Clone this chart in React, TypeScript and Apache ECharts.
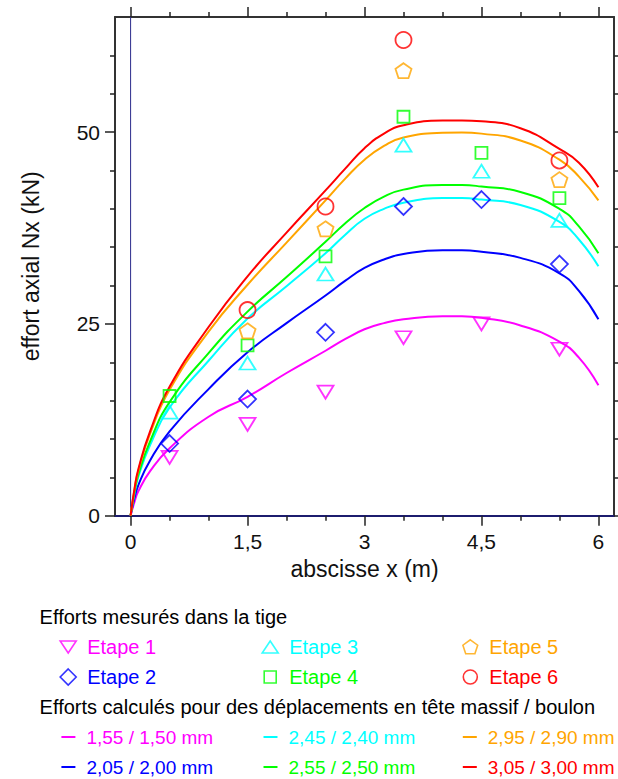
import React, { useEffect, useRef } from 'react';
import * as echarts from 'echarts';

const FONT = '"Liberation Sans", Arial, Helvetica, sans-serif';

// Measured values (Etapes)
const X_MEASURED = [0.5, 1.5, 2.5, 3.5, 4.5, 5.5];
const etape1 = [7.6, 11.9, 16.1, 23.2, 25.0, 21.7];
const etape2 = [9.4, 15.2, 23.9, 40.3, 41.2, 32.8];
const etape3 = [13.5, 19.9, 31.5, 48.3, 44.9, 38.5];
const etape4 = [15.6, 22.2, 33.8, 52.0, 47.3, 41.4];
const etape5 = [null, 24.1, 37.4, 58.0, null, 43.8];
const etape6 = [null, 26.8, 40.3, 62.0, null, 46.3];

// Computed curves
const X_CALC = [0, 0.05, 0.1, 0.25, 0.5, 1, 1.5, 2, 2.5, 2.75, 3, 3.25, 3.5, 4, 4.25, 4.5, 5, 5.5, 5.75, 6];
const calc1 = [0, 1.8, 3.2, 5.8, 8.8, 12.9, 15.5, 18.6, 21.5, 23.0, 24.3, 25.1, 25.6, 26.0, 26.0, 25.8, 24.8, 22.7, 20.6, 17.0];
const calc2 = [0, 2.3, 4.0, 7.2, 11.0, 16.5, 21.3, 25.1, 28.7, 30.6, 32.3, 33.4, 34.1, 34.6, 34.6, 34.4, 33.6, 31.6, 29.3, 25.6];
const calc3 = [0, 2.9, 5.1, 9.2, 14.1, 20.2, 25.7, 29.9, 34.2, 36.6, 38.7, 40.0, 40.8, 41.4, 41.4, 41.2, 40.5, 38.3, 36.0, 32.5];
const calc4 = [0, 3.1, 5.4, 9.7, 14.8, 21.2, 26.6, 31.1, 35.7, 38.1, 40.1, 41.6, 42.5, 43.1, 43.1, 42.9, 42.2, 40.0, 37.7, 34.2];
const calc5 = [0, 3.4, 5.9, 10.7, 16.4, 24.0, 30.1, 35.6, 41.1, 43.9, 46.4, 48.2, 49.3, 49.9, 49.95, 49.8, 48.9, 46.4, 44.2, 41.1];
const calc6 = [0, 3.5, 6.1, 11.0, 16.8, 24.6, 31.2, 36.9, 42.4, 45.2, 47.9, 49.8, 50.9, 51.5, 51.5, 51.4, 50.5, 47.8, 46.0, 42.8];

const MEASURED_NAMES = ['Etape 1', 'Etape 2', 'Etape 3', 'Etape 4', 'Etape 5', 'Etape 6'];
const CALC_NAMES = ['1,55 / 1,50 mm', '2,05 / 2,00 mm', '2,45 / 2,40 mm', '2,55 / 2,50 mm', '2,95 / 2,90 mm', '3,05 / 3,00 mm'];

const X_MAJOR = [0, 1.5, 3, 4.5, 6];
const X_MINOR = [0.5, 1, 2, 2.5, 3.5, 4, 5, 5.5];
const Y_MAJOR = [0, 25, 50];
const Y_MINOR = [5, 10, 15, 20, 30, 35, 40, 45, 55, 60];
const Y_ALL = [0, 5, 10, 15, 20, 25, 30, 35, 40, 45, 50, 55, 60];

const MAG = '#ff00ff';
const BLUE = '#0000ff';
const CYAN = '#00ffff';
const GREEN = '#00ff00';
const ORANGE = '#ffa500';
const RED = '#ff0000';
const COLORS = [MAG, BLUE, CYAN, GREEN, ORANGE, RED];

const PENTAGON = 'path://M8,0L15.6,5.5L12.7,14.5L3.3,14.5L0.4,5.5Z';
const DOWN_TRI = 'path://M0,0L16,0L8,13Z';

const ICONS = [
  'path://M0,0M16,16M0,2L16,2L8,14Z',
  'path://M8,0L16,8L8,16L0,8Z',
  'path://M0,0M16,16M8,2L16,14L0,14Z',
  'path://M0,0M16,16M2,2L14,2L14,14L2,14Z',
  'path://M0,0M16,16M8,0.8L15.4,6.2L12.6,14.8L3.4,14.8L0.6,6.2Z',
  'path://M0,0M16,16M15,8A7,7,0,1,1,1,8A7,7,0,1,1,15,8Z',
];
const DASH_ICON = 'path://M0,0M14,16M0,7L14,7L14,9L0,9Z';

const pts = (xs: number[], ys: (number | null)[]) =>
  xs.map((x, i) => (ys[i] == null ? null : [x, ys[i]])).filter((p) => p !== null);

const fmt = (v: number) => String(v).replace('.', ',');

export default function App() {
  const ref = useRef<HTMLDivElement>(null);
  useEffect(() => {
    const chart = echarts.init(ref.current!, null, { renderer: 'svg' });
    const measured = [etape1, etape2, etape3, etape4, etape5, etape6];
    const calcs = [calc1, calc2, calc3, calc4, calc5, calc6];
    const symbols: any[] = [DOWN_TRI, 'diamond', 'triangle', 'rect', PENTAGON, 'circle'];
    const sizes: any[] = [[16, 13], [17, 17], [16, 13], [12, 12], [16, 15], 16];

    const lineSeries = calcs.map((c, i) => ({
      type: 'line',
      name: CALC_NAMES[i],
      data: pts(X_CALC, c),
      smooth: 0.5,
      symbol: 'none',
      lineStyle: { color: COLORS[i], width: 2 },
      itemStyle: { color: COLORS[i] },
      z: 3,
    }));
    const scatterSeries = measured.map((m, i) => ({
      type: 'scatter',
      name: MEASURED_NAMES[i],
      data: pts(X_MEASURED, m),
      symbol: symbols[i],
      symbolSize: sizes[i],
      itemStyle: { color: 'rgba(255,255,255,0)', borderColor: COLORS[i], borderWidth: 1.8 },
      z: 4,
    }));

    const mkLegend = (names: string[], idx: number[], left: number, top: number, marker: boolean) => ({
      orient: 'vertical',
      left,
      top,
      padding: 0,
      itemWidth: marker ? 16 : 14,
      itemHeight: 16,
      itemGap: 8,
      selectedMode: false,
      textStyle: { fontSize: marker ? 20 : 19, fontFamily: FONT, lineHeight: 22, padding: [0, 0, 0, 6] },
      data: idx.map((k) => ({
        name: names[k],
        icon: marker ? ICONS[k] : DASH_ICON,
        itemStyle: marker
          ? { color: 'rgba(255,255,255,0)', borderColor: COLORS[k], borderWidth: 1.6 }
          : { color: COLORS[k], borderWidth: 0 },
        textStyle: { color: COLORS[k] },
      })),
    });

    const axisCommon = { type: 'value', splitLine: { show: false } };
    const tickStyle = { color: '#222', width: 1.5 };

    chart.setOption({
      animation: false,
      backgroundColor: '#ffffff',
      grid: { left: 115, top: 17, width: 499, height: 498.7, containLabel: false },
      xAxis: [
        {
          ...axisCommon,
          min: -0.2,
          max: 6.2,
          position: 'bottom',
          axisLine: { show: true, onZero: false, lineStyle: { color: '#1c1c6e', width: 2 } },
          axisTick: { show: true, customValues: X_MAJOR, length: 10, lineStyle: tickStyle },
          axisLabel: { show: true, customValues: X_MAJOR, formatter: fmt, fontSize: 21, fontFamily: FONT, color: '#111', margin: 15 },
          name: 'abscisse x (m)',
          nameLocation: 'middle',
          nameGap: 42,
          nameTextStyle: { fontSize: 23, fontFamily: FONT, color: '#111' },
        },
        {
          ...axisCommon,
          min: -0.2,
          max: 6.2,
          position: 'bottom',
          axisLine: { show: false, onZero: false },
          axisTick: { show: true, customValues: X_MINOR, length: 5, lineStyle: tickStyle },
          axisLabel: { show: false },
        },
        {
          ...axisCommon,
          min: -0.2,
          max: 6.2,
          position: 'top',
          axisLine: { show: true, onZero: false, lineStyle: { color: '#333', width: 2 } },
          axisTick: { show: true, customValues: X_MAJOR, length: 10, lineStyle: tickStyle },
          axisLabel: { show: false },
        },
        {
          ...axisCommon,
          min: -0.2,
          max: 6.2,
          position: 'top',
          axisLine: { show: false, onZero: false },
          axisTick: { show: true, customValues: X_MINOR, length: 5, lineStyle: tickStyle },
          axisLabel: { show: false },
        },
      ],
      yAxis: [
        {
          ...axisCommon,
          min: 0,
          max: 65,
          position: 'left',
          axisLine: { show: true, onZero: false, lineStyle: { color: '#333', width: 2 } },
          axisTick: { show: true, customValues: Y_MAJOR, length: 10, lineStyle: tickStyle },
          axisLabel: { show: true, customValues: Y_MAJOR, fontSize: 21, fontFamily: FONT, color: '#111', margin: 15 },
          name: 'effort axial Nx (kN)',
          nameLocation: 'middle',
          nameGap: 73,
          nameTextStyle: { fontSize: 23, fontFamily: FONT, color: '#111' },
        },
        {
          ...axisCommon,
          min: 0,
          max: 65,
          position: 'left',
          axisLine: { show: false, onZero: false },
          axisTick: { show: true, customValues: Y_MINOR, length: 5, lineStyle: tickStyle },
          axisLabel: { show: false },
        },
        {
          ...axisCommon,
          min: 0,
          max: 65,
          position: 'right',
          axisLine: { show: true, onZero: false, lineStyle: { color: '#333', width: 2 } },
          axisTick: { show: true, customValues: Y_ALL, length: 5, lineStyle: tickStyle },
          axisLabel: { show: false },
        },
      ],
      legend: [
        mkLegend(MEASURED_NAMES, [0, 1], 59.4, 636, true),
        mkLegend(MEASURED_NAMES, [2, 3], 261.4, 636, true),
        mkLegend(MEASURED_NAMES, [4, 5], 461.5, 636, true),
        mkLegend(CALC_NAMES, [0, 1], 61.4, 726, false),
        mkLegend(CALC_NAMES, [2, 3], 263.5, 726, false),
        mkLegend(CALC_NAMES, [4, 5], 462.8, 726, false),
      ],
      graphic: [
        {
          type: 'text',
          x: 39.6,
          y: 617,
          style: { text: 'Efforts mesurés dans la tige', fontSize: 20, fontFamily: FONT, fill: '#000', verticalAlign: 'middle' },
        },
        {
          type: 'text',
          x: 39.6,
          y: 707,
          style: {
            text: 'Efforts calculés pour des déplacements en tête massif / boulon',
            fontSize: 20,
            fontFamily: FONT,
            fill: '#000',
            verticalAlign: 'middle',
          },
        },
      ],
      series: [
        {
          type: 'line',
          name: 'x0',
          data: [[0, 0], [0, 65]],
          symbol: 'none',
          silent: true,
          lineStyle: { color: '#2a2a8c', width: 1 },
          z: 1,
        },
        ...lineSeries,
        ...scatterSeries,
      ],
    });
    return () => chart.dispose();
  }, []);
  return <div ref={ref} style={{ position: 'absolute', left: 0, top: 0, width: 618, height: 779 }} />;
}
